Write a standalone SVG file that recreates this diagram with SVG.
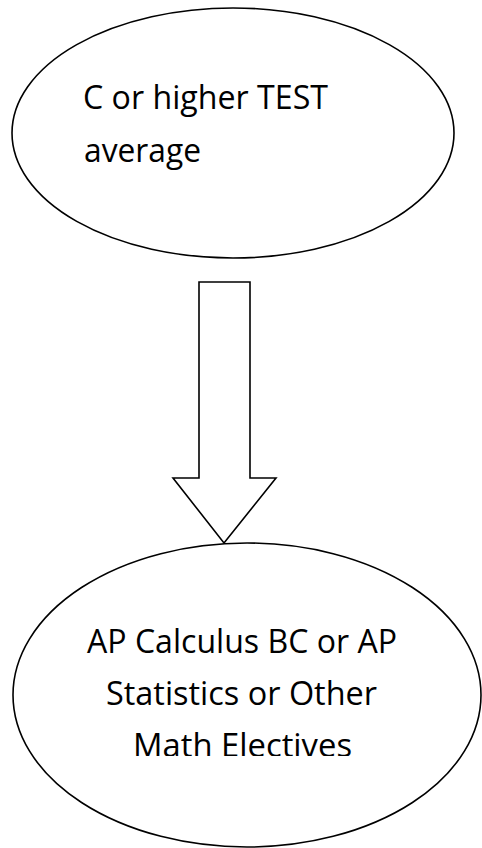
<svg xmlns="http://www.w3.org/2000/svg" width="482" height="848" viewBox="0 0 482 848">
<style>
.shape{fill:#fff;stroke:#000;stroke-width:1.6}
.lbl{font-family:"Open Sans","Liberation Sans",sans-serif;font-size:32px;fill:#000}
</style>
<defs>
<clipPath id="clipBottom"><rect x="0" y="560" width="482" height="196"/></clipPath>
</defs>
<rect width="482" height="848" fill="#fff"/>
<g id="node-top">
<ellipse class="shape" cx="233" cy="133" rx="221" ry="125"/>
<text class="lbl" x="83" y="108.5" textLength="245" lengthAdjust="spacingAndGlyphs">C or higher TEST</text>
<text class="lbl" x="84" y="162" textLength="117" lengthAdjust="spacingAndGlyphs">average</text>
</g>
<g id="connectors">
<path class="shape" d="M199,282 H250 V478 H276 L224,543 L173,478 H199 Z"/>
</g>
<g id="node-bottom">
<ellipse class="shape" cx="247" cy="695" rx="234" ry="152"/>
<g clip-path="url(#clipBottom)">
<text class="lbl" x="87" y="653" textLength="310" lengthAdjust="spacingAndGlyphs">AP Calculus BC or AP</text>
<text class="lbl" x="106" y="705" textLength="271" lengthAdjust="spacingAndGlyphs">Statistics or Other</text>
<text class="lbl" x="133" y="757" textLength="219" lengthAdjust="spacingAndGlyphs">Math Electives</text>
</g>
</g>
</svg>
